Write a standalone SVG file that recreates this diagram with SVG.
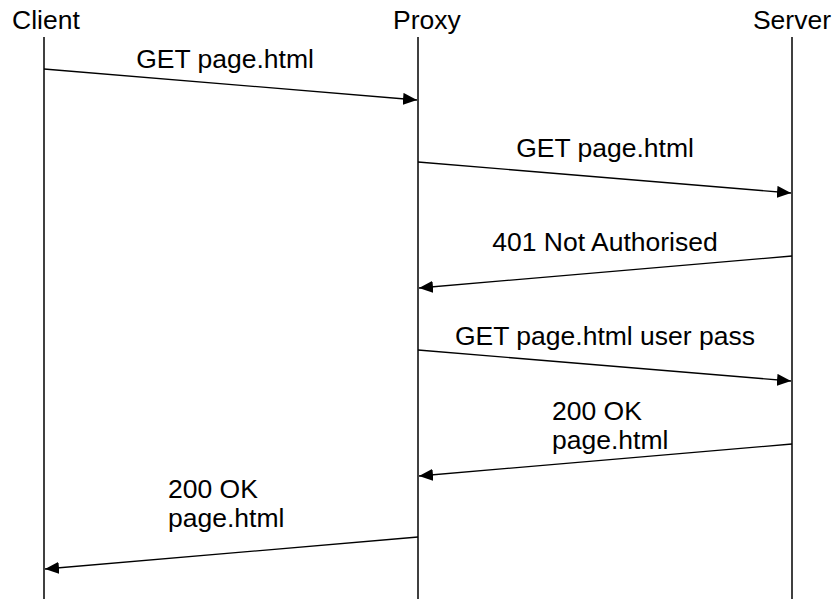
<svg xmlns="http://www.w3.org/2000/svg" width="835" height="599" viewBox="0 0 835 599">
<style>
text{font-family:"Liberation Sans",Arial,sans-serif;font-size:26.5px;fill:#000}
.life{stroke:#000;stroke-width:1.5}
.msg{stroke:#000;stroke-width:1.3;fill:none;marker-end:url(#ah)}
</style>
<defs>
<marker id="ah" viewBox="0 0 14 12" refX="14" refY="6" markerWidth="14" markerHeight="12" markerUnits="userSpaceOnUse" orient="auto">
<path d="M0,0 L14,6 L0,12 Z" fill="#000"/>
</marker>
</defs>
<rect width="835" height="599" fill="#fff"/>
<g id="client">
<text x="12" y="29">Client</text>
<line class="life" x1="44" y1="37" x2="44" y2="599"/>
</g>
<g id="proxy">
<text x="393" y="29">Proxy</text>
<line class="life" x1="418" y1="37" x2="418" y2="599"/>
</g>
<g id="server">
<text x="831" y="29" text-anchor="end">Server</text>
<line class="life" x1="792" y1="37" x2="792" y2="599"/>
</g>
<g id="connectors">
<line class="msg" x1="44" y1="69" x2="417" y2="100"/>
<line class="msg" x1="418" y1="162" x2="791" y2="193"/>
<line class="msg" x1="792" y1="256" x2="419" y2="288"/>
<line class="msg" x1="418" y1="350" x2="791" y2="381"/>
<line class="msg" x1="792" y1="444" x2="419" y2="476"/>
<line class="msg" x1="418" y1="537" x2="45" y2="569"/>
<text x="225" y="68" text-anchor="middle">GET page.html</text>
<text x="605" y="157" text-anchor="middle">GET page.html</text>
<text x="605" y="251" text-anchor="middle">401 Not Authorised</text>
<text x="605" y="345" text-anchor="middle">GET page.html user pass</text>
<text x="552" y="420">200 OK</text>
<text x="552" y="449">page.html</text>
<text x="168" y="498">200 OK</text>
<text x="168" y="527">page.html</text>
</g>
</svg>
